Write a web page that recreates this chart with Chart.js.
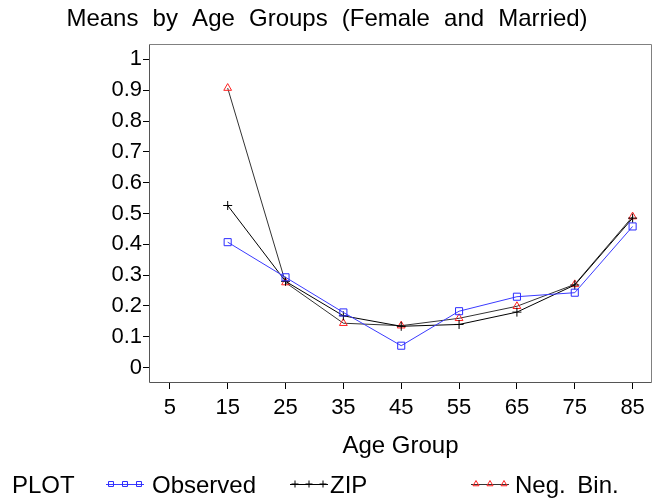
<!DOCTYPE html>
<html>
<head>
<meta charset="utf-8">
<script src="https://cdn.jsdelivr.net/npm/chart.js@4.4.1/dist/chart.umd.min.js"></script>
<style>
html, body { margin: 0; padding: 0; background: #fff; }
</style>
</head>
<body>
<canvas id="meansChart" width="664" height="501"></canvas>
<script>
// values
const ageGroups = [15, 25, 35, 45, 55, 65, 75, 85];
const xTickValues = [5, 15, 25, 35, 45, 55, 65, 75, 85];
const yTickValues = [0, 0.1, 0.2, 0.3, 0.4, 0.5, 0.6, 0.7, 0.8, 0.9, 1];
const observed = [0.407, 0.293, 0.179, 0.071, 0.183, 0.230, 0.243, 0.458];
const zip = [0.526, 0.280, 0.168, 0.134, 0.140, 0.180, 0.268, 0.485];
const negBin = [0.907, 0.276, 0.144, 0.136, 0.160, 0.199, 0.270, 0.490];

const FONT = "'Liberation Sans', Arial, sans-serif";

function toPoints(values) {
    return ageGroups.map((age, i) => ({ x: age, y: values[i] }));
}

// title, frame and the SAS style legend row
const sasDecor = {
    id: 'sasDecor',
    afterDraw(chart) {
        const ctx = chart.ctx;
        const a = chart.chartArea;
        ctx.save();

        // frame round the plot
        ctx.lineWidth = 1;
        ctx.strokeStyle = '#808080';
        ctx.beginPath();
        ctx.moveTo(a.left + 0.5, a.top + 0.5);
        ctx.lineTo(a.right - 0.5, a.top + 0.5);
        ctx.lineTo(a.right - 0.5, a.bottom - 0.5);
        ctx.stroke();
        ctx.strokeStyle = '#555';
        ctx.beginPath();
        ctx.moveTo(a.left + 0.5, a.top + 0.5);
        ctx.lineTo(a.left + 0.5, a.bottom - 0.5);
        ctx.lineTo(a.right - 0.5, a.bottom - 0.5);
        ctx.stroke();

        // title
        ctx.fillStyle = '#000';
        ctx.font = '24px ' + FONT;
        ctx.textAlign = 'center';
        ctx.textBaseline = 'middle';
        ctx.wordSpacing = '7.5px';
        ctx.fillText('Means by Age Groups (Female and Married)', 327, 19);
        ctx.wordSpacing = '0px';

        // legend
        const ly = 484;
        ctx.font = '24px ' + FONT;
        ctx.textAlign = 'left';
        ctx.fillText('PLOT', 12, ly + 2);
        const slots = [
            { x: 106, tx: 152 },
            { x: 290, tx: 330 },
            { x: 471, tx: 515 }
        ];
        chart.data.datasets.forEach((ds, i) => {
            const s = slots[i];
            ctx.strokeStyle = ds.borderColor;
            ctx.lineWidth = 1;
            ctx.beginPath();
            ctx.moveTo(s.x, ly + 0.5);
            ctx.lineTo(s.x + 38, ly + 0.5);
            ctx.stroke();
            ctx.strokeStyle = ds.pointBorderColor;
            ctx.fillStyle = 'rgba(0,0,0,0)';
            for (let k = 0; k < 3; k++) {
                Chart.helpers.drawPoint(ctx, {
                    pointStyle: ds.pointStyle, rotation: 0,
                    radius: 3.5, borderWidth: 1
                }, s.x + 5 + k * 14, ly);
            }
            ctx.fillStyle = '#000';
            ctx.wordSpacing = '5px';
            ctx.fillText(ds.label, s.tx, ly + 2);
            ctx.wordSpacing = '0px';
        });
        ctx.restore();
    }
};

new Chart(document.getElementById('meansChart').getContext('2d'), {
    type: 'line',
    data: {
        datasets: [{
            label: 'Observed',
            data: toPoints(observed),
            borderColor: '#3a3aff',
            borderWidth: 1,
            pointStyle: 'rect',
            pointRadius: 5,
            pointBorderColor: '#2b2bff',
            pointBackgroundColor: 'rgba(0,0,0,0)',
            pointBorderWidth: 1
        }, {
            label: 'ZIP',
            data: toPoints(zip),
            borderColor: '#000',
            borderWidth: 1,
            pointStyle: 'cross',
            pointRadius: 4.5,
            pointBorderColor: '#000',
            pointBorderWidth: 1
        }, {
            label: 'Neg. Bin.',
            data: toPoints(negBin),
            borderColor: '#333',
            borderWidth: 1,
            pointStyle: 'triangle',
            pointRadius: 4.5,
            pointBorderColor: '#ff2020',
            pointBackgroundColor: 'rgba(0,0,0,0)',
            pointBorderWidth: 1
        }]
    },
    options: {
        responsive: false,
        animation: false,
        devicePixelRatio: 1,
        layout: { padding: { top: 44, left: 0, right: 12, bottom: 40 } },
        plugins: {
            legend: { display: false },
            title: { display: false },
            tooltip: { enabled: false }
        },
        elements: { line: { tension: 0 } },
        scales: {
            x: {
                type: 'linear',
                min: 1.4,
                max: 88.35,
                afterBuildTicks: scale => { scale.ticks = xTickValues.map(v => ({ value: v })); },
                afterFit: scale => { scale.height = 78; },
                border: { display: false },
                grid: { drawOnChartArea: false, drawTicks: true, tickLength: 6, color: '#000' },
                ticks: { color: '#000', font: { family: FONT, size: 22 }, padding: 6, maxRotation: 0, autoSkip: false },
                title: {
                    display: true,
                    text: 'Age Group',
                    color: '#000',
                    font: { family: FONT, size: 24 },
                    padding: { top: 0, bottom: 0 }
                }
            },
            y: {
                type: 'linear',
                min: -0.05,
                max: 1.05,
                afterBuildTicks: scale => { scale.ticks = yTickValues.map(v => ({ value: v })); },
                afterFit: scale => { scale.width = 149; },
                border: { display: false },
                grid: { drawOnChartArea: false, drawTicks: true, tickLength: 6, color: '#000' },
                ticks: {
                    color: '#000',
                    font: { family: FONT, size: 22 },
                    padding: 1,
                    autoSkip: false,
                    callback: v => String(v)
                }
            }
        }
    },
    plugins: [sasDecor]
});
</script>
</body>
</html>
